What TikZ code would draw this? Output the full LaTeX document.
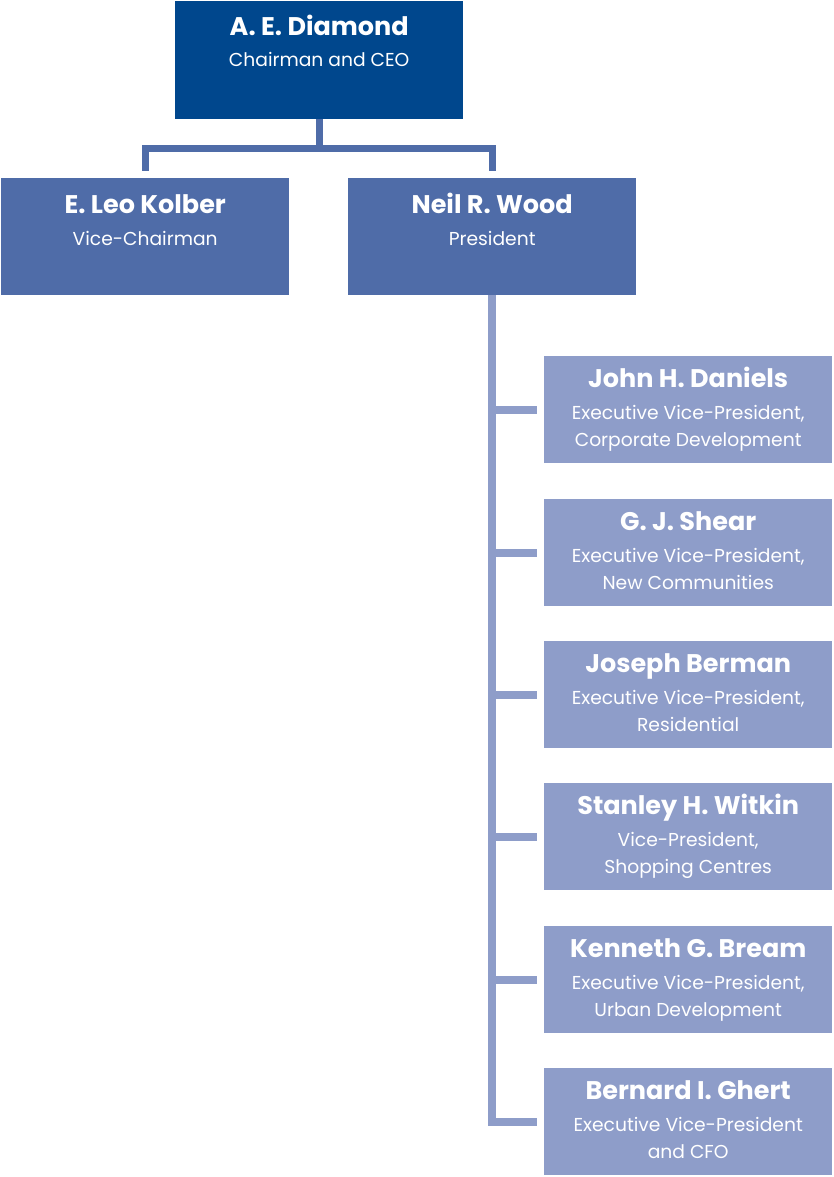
\documentclass[tikz,border=0pt]{standalone}
\usepackage{fontspec}
\setmainfont{Poppins}
\definecolor{lvlone}{RGB}{0,71,141}
\definecolor{lvltwo}{RGB}{79,108,168}
\definecolor{lvlthree}{RGB}{142,157,201}
\tikzset{
  box/.style={rectangle, inner sep=0pt, anchor=north west, draw=none},
  boxone/.style={box, fill=lvlone, minimum width=288pt, minimum height=118pt},
  boxtwo/.style={box, fill=lvltwo, minimum width=288pt, minimum height=117pt},
  boxthree/.style={box, fill=lvlthree, minimum width=288pt, minimum height=107pt},
  pname/.style={anchor=base, text=white, inner sep=0pt, font=\fontsize{25.5}{28}\selectfont\bfseries},
  ptitle/.style={anchor=base, text=white, inner sep=0pt, font=\fontsize{18.7}{27}\selectfont, align=center},
  connone/.style={draw=lvltwo, line width=7pt, line join=miter},
  conntwo/.style={draw=lvlthree, line width=8pt, line join=miter},
}
\newcommand{\staffbox}[4]{%
  \node[pname] (#1n) at ([yshift=-31pt]#1.north) {#2};
  \node[ptitle] (#1t) at ([yshift=-63pt]#1.north) {#3};
  \node[ptitle] (#1u) at ([yshift=-90pt]#1.north) {#4};
}
\begin{document}
\begin{tikzpicture}[x=1pt,y=-1pt]
\useasboundingbox (0,0) rectangle (834,1177);
\node[boxone] (ceo) at (175,1) {};
\node[boxtwo] (kol) at (1,178) {};
\node[boxtwo] (wood) at (348,178) {};
\node[boxthree] (b1) at (544,356) {};
\node[boxthree] (b2) at (544,499) {};
\node[boxthree] (b3) at (544,641) {};
\node[boxthree] (b4) at (544,783) {};
\node[boxthree] (b5) at (544,926) {};
\node[boxthree] (b6) at (544,1068) {};

\node[pname] (ceon) at ([yshift=-35pt]ceo.north) {A. E. Diamond};
\node[ptitle] (ceot) at ([yshift=-66pt]ceo.north) {Chairman and CEO};
\node[pname] (koln) at ([yshift=-35pt]kol.north) {E. Leo Kolber};
\node[ptitle] (kolt) at ([yshift=-67pt]kol.north) {Vice-Chairman};
\node[pname] (woodn) at ([yshift=-35pt]wood.north) {Neil R. Wood};
\node[ptitle] (woodt) at ([yshift=-67pt]wood.north) {President};

\staffbox{b1}{John H. Daniels}{Executive Vice-President,}{Corporate Development}
\staffbox{b2}{G. J. Shear}{Executive Vice-President,}{New Communities}
\staffbox{b3}{Joseph Berman}{Executive Vice-President,}{Residential}
\staffbox{b4}{Stanley H. Witkin}{Vice-President,}{Shopping Centres}
\staffbox{b5}{Kenneth G. Bream}{Executive Vice-President,}{Urban Development}
\staffbox{b6}{Bernard I. Ghert}{Executive Vice-President}{and CFO}

\draw[connone, shorten >=7pt] (ceo.south) -- ++(0,29.5) -| (kol.north);
\draw[connone, shorten >=7pt] (ceo.south) -- ++(0,29.5) -| (wood.north);
\foreach \bx in {b1,b2,b3,b4,b5,b6}{
  \draw[conntwo, shorten >=7pt] (wood.south) |- (\bx.west);
}
\end{tikzpicture}
\end{document}
